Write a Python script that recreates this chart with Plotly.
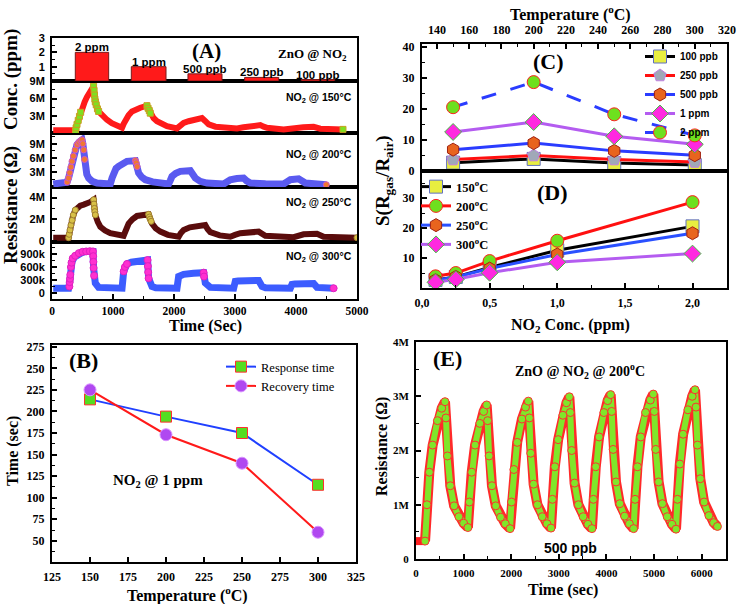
import plotly.graph_objects as go

W, H = 737, 604
def X(p): return p / W
def Y(p): return 1 - p / H

SERIF = "Liberation Serif"
SANS = "Liberation Sans"

# ---------------- Panel A data ----------------
conc_labels = ["2 ppm", "1 ppm", "500 ppb", "250 ppb", "100 ppb"]
conc_values = [2.0, 1.0, 0.5, 0.25, 0.1]
conc_start = [382, 1300, 2229, 3158, 4087]
conc_end = [929, 1869, 2787, 3716, 4634]

# 150 C (MOhm)
t150 = [20, 382, 410, 450, 492, 535, 574, 630, 682, 697, 710, 735, 764, 830, 901, 980, 1066, 1148, 1175, 1202,
        1255, 1311, 1380, 1448, 1557, 1585, 1611, 1665, 1721, 1800, 1885, 2049, 2100, 2158, 2240, 2322, 2459, 2510,
        2568, 2680, 2814, 3033, 3140, 3251, 3415, 3470, 3525, 3797, 3961, 4120, 4289, 4340, 4399, 4770]
r150 = [0.46, 0.46, 1.5, 2.9, 4.3, 5.4, 6.3, 7.3, 8.15, 6.6, 5.4, 4.5, 3.75, 2.9, 2.3, 1.7, 1.2, 0.9, 1.6, 2.3,
        3.1, 3.75, 4.15, 4.4, 4.75, 4.1, 3.45, 2.6, 2.05, 1.55, 1.2, 0.8, 1.3, 1.75, 2.05, 2.3, 2.6, 2.1,
        1.5, 1.1, 0.9, 0.8, 1.0, 1.2, 1.37, 1.1, 0.9, 0.63, 0.9, 1.0, 1.08, 0.9, 0.75, 0.63]
m150_t = [385, 395, 410, 430, 450, 470, 682, 690, 697, 703, 710, 725, 745, 764, 1557, 1575, 1595, 1611, 4770]
m150_r = [0.46, 0.9, 1.5, 2.2, 2.9, 3.6, 8.15, 7.4, 6.6, 5.9, 5.4, 4.9, 4.2, 3.75, 4.75, 4.3, 3.9, 3.45, 0.63]

# 200 C (MOhm)
t200 = [20, 218, 245, 272, 300, 328, 370, 410, 450, 492, 505, 519, 533, 547, 570, 601, 660, 738, 850, 956,
        985, 1010, 1050, 1092, 1160, 1229, 1366, 1390, 1420, 1470, 1530, 1650, 1776, 1912, 1940, 1967, 2030, 2103,
        2267, 2300, 2349, 2430, 2541, 2814, 2870, 2923, 3030, 3141, 3190, 3251, 3500, 3797, 3850, 3907, 4043, 4100,
        4153, 4497]
r200 = [0.55, 0.55, 0.9, 1.8, 3.5, 5.3, 7.3, 8.8, 9.4, 9.8, 9.0, 7.7, 5.7, 3.9, 2.6, 1.8, 1.1, 0.75, 0.6, 0.55,
        1.8, 3.2, 3.8, 4.25, 4.9, 5.3, 5.45, 4.3, 2.85, 2.0, 1.45, 1.0, 0.75, 0.55, 1.3, 2.15, 2.8, 3.2,
        3.35, 2.6, 1.8, 1.1, 0.75, 0.55, 1.0, 1.45, 1.7, 1.8, 1.2, 0.75, 0.6, 0.55, 1.0, 1.45, 1.65, 1.2,
        0.75, 0.4]
m200_t = [250, 272, 290, 310, 328, 350, 380, 410, 440, 470, 492, 505, 519, 533, 1366, 1380, 1395, 4497]
m200_r = [0.95, 1.8, 2.9, 4.1, 5.3, 6.4, 7.7, 8.8, 9.3, 9.6, 9.8, 9.0, 7.7, 5.7, 5.45, 5.0, 4.2, 0.4]

# 250 C (MOhm)
t250 = [20, 272, 290, 311, 345, 382, 420, 464, 520, 574, 630, 682, 695, 710, 750, 792, 870, 956, 1174, 1210,
        1256, 1320, 1393, 1584, 1610, 1639, 1700, 1776, 1900, 2077, 2110, 2158, 2260, 2377, 2513, 2550, 2595, 2750,
        2923, 3000, 3087, 3388, 3440, 3497, 3961, 4040, 4125, 4344, 4400, 4453, 5000]
r250 = [0.29, 0.29, 0.8, 1.45, 2.3, 2.85, 3.1, 3.25, 3.35, 3.45, 3.6, 3.8, 3.0, 2.4, 1.75, 1.3, 0.95, 0.7, 0.47, 1.0,
        1.6, 2.0, 2.3, 2.45, 2.0, 1.6, 1.15, 0.85, 0.55, 0.38, 0.7, 1.0, 1.25, 1.4, 1.46, 1.1, 0.8, 0.5,
        0.38, 0.55, 0.7, 0.85, 0.62, 0.47, 0.33, 0.5, 0.6, 0.66, 0.5, 0.38, 0.29]
m250_t = [272, 282, 295, 311, 330, 350, 382, 682, 688, 695, 702, 710, 1584, 1597, 1610, 1625, 5000]
m250_r = [0.29, 0.6, 1.0, 1.45, 1.9, 2.4, 2.85, 3.8, 3.4, 3.0, 2.7, 2.4, 2.45, 2.2, 2.0, 1.8, 0.29]

# 300 C (kOhm)
t300 = [20, 272, 290, 300, 328, 370, 410, 480, 546, 620, 672, 682, 696, 710, 764, 1148, 1175, 1200, 1229, 1300,
        1393, 1480, 1567, 1584, 1610, 1639, 1700, 2049, 2076, 2110, 2158, 2320, 2486, 2513, 2595, 2978, 3005, 3050,
        3200, 3388, 3443, 3500, 3907, 3934, 3980, 4150, 4289, 4344, 4617]
r300 = [110, 110, 250, 420, 730, 830, 880, 925, 960, 965, 960, 580, 350, 230, 130, 110, 500, 610, 670, 710,
        740, 750, 760, 340, 200, 150, 120, 110, 380, 410, 430, 455, 470, 230, 130, 110, 270, 280,
        285, 290, 150, 120, 110, 200, 210, 215, 220, 130, 110]
m300_t = [285, 290, 295, 300, 310, 320, 340, 380, 440, 500, 560, 620, 672, 676, 679, 682, 690, 1175, 1195, 1229,
          1567, 1572, 1577, 1584, 2486, 2492, 4617]
m300_r = [150, 250, 330, 420, 600, 700, 800, 860, 920, 950, 960, 965, 960, 850, 720, 580, 400, 500, 600, 670,
          760, 620, 480, 340, 470, 380, 110]

# ---------------- Panel B data ----------------
b_temp = [150, 200, 250, 300]
b_response = [214, 194, 175, 115]
b_recovery = [225, 173, 140, 60]

# ---------------- Panel C / D data ----------------
c_temp = [150, 200, 250, 300]
c_series = ["100 ppb", "250 ppb", "500 ppb", "1 ppm", "2 ppm"]
s_100ppb = [2.7, 3.9, 2.6, 1.9]
s_250ppb = [3.7, 5.0, 3.7, 2.9]
s_500ppb = [6.9, 9.0, 6.5, 5.1]
s_1ppm = [12.6, 15.8, 11.2, 8.6]
s_2ppm = [20.6, 28.7, 18.3, 11.5]

d_conc = [0.1, 0.25, 0.5, 1.0, 2.0]
d_series = ["150<sup>o</sup>C", "200<sup>o</sup>C", "250<sup>o</sup>C", "300<sup>o</sup>C"]
s_150C = [2.7, 3.7, 6.9, 12.6, 20.6]
s_200C = [3.9, 5.0, 9.0, 15.8, 28.7]
s_250C = [2.6, 3.7, 6.5, 11.2, 18.3]
s_300C = [1.9, 2.9, 5.1, 8.6, 11.5]

# ---------------- Panel E data (MOhm) ----------------
E_base_t = [0, 40, 80, 120, 160, 190]
E_base_r = [0.33, 0.33, 0.33, 0.33, 0.33, 0.33]
E_time = [190, 230, 280, 350, 450, 540, 609, 630, 660, 720, 800, 900, 1000,
          1090, 1120, 1170, 1240, 1340, 1420, 1484, 1505, 1535, 1595, 1675, 1775, 1875,
          1975, 2005, 2055, 2125, 2225, 2300, 2359, 2380, 2410, 2470, 2550, 2650, 2750,
          2835, 2865, 2915, 2985, 3085, 3160, 3220, 3240, 3270, 3330, 3410, 3510, 3610,
          3695, 3725, 3775, 3845, 3945, 4025, 4088, 4110, 4140, 4200, 4280, 4380, 4480,
          4570, 4600, 4650, 4720, 4820, 4920, 4984, 5005, 5035, 5095, 5175, 5275, 5375,
          5460, 5490, 5540, 5610, 5710, 5800, 5859, 5880, 5910, 5970, 6050, 6150, 6250, 6330]
E_res = [0.33, 1.0, 1.6, 2.1, 2.55, 2.78, 2.90, 2.6, 1.9, 1.35, 0.98, 0.78, 0.66,
         0.58, 1.05, 1.6, 2.1, 2.5, 2.72, 2.84, 2.55, 1.9, 1.35, 0.98, 0.77, 0.65,
         0.56, 1.05, 1.65, 2.15, 2.58, 2.8, 2.91, 2.6, 1.95, 1.38, 1.0, 0.78, 0.65,
         0.57, 1.1, 1.7, 2.2, 2.65, 2.88, 2.99, 2.7, 2.0, 1.4, 1.0, 0.78, 0.64,
         0.56, 1.1, 1.7, 2.25, 2.7, 2.92, 3.03, 2.72, 2.02, 1.42, 1.02, 0.79, 0.65,
         0.56, 1.1, 1.7, 2.25, 2.7, 2.93, 3.04, 2.72, 2.02, 1.42, 1.02, 0.78, 0.64,
         0.55, 1.1, 1.75, 2.3, 2.75, 3.0, 3.12, 2.8, 2.1, 1.48, 1.05, 0.8, 0.67, 0.6]

# ---------------- figure ----------------
fig = go.Figure()
NOHOVER = dict(hoverinfo="skip", showlegend=False)

def band(x, y, color, width, xa, ya):
    fig.add_trace(go.Scatter(x=x, y=y, mode="lines", line=dict(color=color, width=width),
                             xaxis=xa, yaxis=ya, **NOHOVER))

def marks(x, y, color, edge, symbol, size, xa, ya):
    fig.add_trace(go.Scatter(x=x, y=y, mode="markers",
                             marker=dict(color=color, symbol=symbol, size=size, line=dict(color=edge, width=1)),
                             xaxis=xa, yaxis=ya, **NOHOVER))

# conc bars
centers = [(s + e) / 2 for s, e in zip(conc_start, conc_end)]
widths = [e - s for s, e in zip(conc_start, conc_end)]
fig.add_trace(go.Bar(x=centers, y=conc_values, width=widths,
                     marker=dict(color="#ff1a1a", line=dict(color="#7a1a1a", width=1)),
                     xaxis="x5", yaxis="y5", **NOHOVER))

band(t150, r150, "#ff1a1a", 6, "x4", "y4")
marks(m150_t, m150_r, "#7ee020", "#c8a020", "square", 6, "x4", "y4")
band(t200, r200, "#5a5af0", 7, "x3", "y3")
marks(m200_t, m200_r, "#f07830", "#d05ac0", "circle", 6, "x3", "y3")
band(t250, r250, "#5a0c0c", 6, "x2", "y2")
marks(m250_t, m250_r, "#d8c048", "#a08030", "circle", 6, "x2", "y2")
band(t300, r300, "#3c5cff", 7, "x", "y")
marks(m300_t, m300_r, "#ff30d0", "#e020c0", "circle", 7, "x", "y")

# Panel B
fig.add_trace(go.Scatter(x=b_temp, y=b_response, name="Response time", mode="lines+markers",
                         line=dict(color="#2040ff", width=2),
                         marker=dict(symbol="square", size=11, color="#55dd22", line=dict(color="#ff3030", width=1)),
                         xaxis="x6", yaxis="y6", legend="legend", hoverinfo="skip"))
fig.add_trace(go.Scatter(x=b_temp, y=b_recovery, name="Recovery time", mode="lines+markers",
                         line=dict(color="#ff1a1a", width=2),
                         marker=dict(symbol="circle", size=12, color="#b048f0", line=dict(color="#d890ff", width=1)),
                         xaxis="x6", yaxis="y6", legend="legend", hoverinfo="skip"))

# Panel C
c_vals = [s_100ppb, s_250ppb, s_500ppb, s_1ppm, s_2ppm]
c_line = ["#000000", "#ff1010", "#2a3cff", "#b45cf0", "#2a3cff"]
c_dash = ["solid", "solid", "solid", "solid", "longdash"]
c_sym = ["square", "pentagon", "hexagon", "diamond", "circle"]
c_fill = ["#e8ee40", "#a0a8b8", "#e8641e", "#ff28e0", "#6ee01e"]
c_edge = ["#6070c0", "#c080e0", "#a02010", "#40c040", "#ff2020"]
for nm, v, lc, ds, sy, fc, ec in zip(c_series, c_vals, c_line, c_dash, c_sym, c_fill, c_edge):
    fig.add_trace(go.Scatter(x=c_temp, y=v, name=nm, mode="lines+markers",
                             line=dict(color=lc, width=3, dash=ds),
                             marker=dict(symbol=sy, size=13, color=fc, line=dict(color=ec, width=1)),
                             xaxis="x7", yaxis="y7", legend="legend2", hoverinfo="skip"))

# Panel D
d_vals = [s_150C, s_200C, s_250C, s_300C]
d_line = ["#000000", "#ff1010", "#2a50ff", "#b45cf0"]
d_sym = ["square", "circle", "hexagon", "diamond"]
d_fill = ["#e8ee40", "#6ee01e", "#e8641e", "#ff28e0"]
d_edge = ["#6070c0", "#ff2020", "#a02010", "#40c040"]
for nm, v, lc, sy, fc, ec in zip(d_series, d_vals, d_line, d_sym, d_fill, d_edge):
    fig.add_trace(go.Scatter(x=d_conc, y=v, name=nm, mode="lines+markers",
                             line=dict(color=lc, width=3),
                             marker=dict(symbol=sy, size=13, color=fc, line=dict(color=ec, width=1)),
                             xaxis="x8", yaxis="y8", legend="legend3", hoverinfo="skip"))

# Panel E
band(E_base_t, E_base_r, "#ff2020", 8, "x9", "y9")
band(E_time, E_res, "#ff2a2a", 10, "x9", "y9")
band(E_time, E_res, "#80e62a", 6, "x9", "y9")
marks(E_time, E_res, "#80e62a", "#ff3030", "circle", 8, "x9", "y9")

# ---------------- axes ----------------
def tf(family, size):
    return dict(family=family, size=size, color="black", weight="bold")

def axis(dom, rng, anchor, **kw):
    d = dict(domain=dom, range=rng, anchor=anchor, showline=True, linecolor="black", linewidth=2,
             mirror=True, showgrid=False, zeroline=False, ticks="inside", ticklen=5, tickwidth=1.5,
             tickcolor="black", automargin=False, fixedrange=True, ticklabelstandoff=3)
    d.update(kw)
    return d

def minor(**kw):
    d = dict(ticks="inside", ticklen=3, tickwidth=1, tickcolor="black")
    d.update(kw)
    return d

AX = [X(52), X(357)]
lay = {}
lay["xaxis"] = axis(AX, [0, 5000], "y", dtick=1000, tick0=0, tickfont=tf(SERIF, 11.5),
                    minor=minor(dtick=500, tick0=0), ticklabelstandoff=0)
for i, a in [(2, "y2"), (3, "y3"), (4, "y4"), (5, "y5")]:
    lay["xaxis%d" % i] = axis(AX, [0, 5000], a, showticklabels=False, ticks="")

lay["yaxis"] = axis([Y(299), Y(242)], [-138, 1177], "x", tickmode="array", tickvals=[0, 300, 600, 900],
                    ticktext=["0", "300k", "600k", "900k"], tickfont=tf(SANS, 11),
                    minor=minor(tickmode="array", tickvals=[150, 450, 750, 1050]))
lay["yaxis2"] = axis([Y(242), Y(187)], [-0.11, 4.98], "x2", tickmode="array", tickvals=[0, 2, 4],
                     ticktext=["0", "2M", "4M"], tickfont=tf(SANS, 11),
                     minor=minor(tickmode="array", tickvals=[1, 3]))
lay["yaxis3"] = axis([Y(187), Y(133)], [-0.08, 11.24], "x3", tickmode="array", tickvals=[3, 6, 9],
                     ticktext=["3M", "6M", "9M"], tickfont=tf(SANS, 11),
                     minor=minor(tickmode="array", tickvals=[1.5, 4.5, 7.5, 10.5]))
lay["yaxis4"] = axis([Y(133), Y(81)], [0, 9.05], "x4", tickmode="array", tickvals=[3, 6, 9],
                     ticktext=["3M", "6M", "9M"], tickfont=tf(SANS, 11),
                     minor=minor(tickmode="array", tickvals=[1.5, 4.5, 7.5]))
lay["yaxis5"] = axis([Y(81), Y(38)], [0, 3], "x5", tickmode="array", tickvals=[1, 2, 3],
                     ticktext=["1", "2", "3"], tickfont=tf(SANS, 11),
                     minor=minor(tickmode="array", tickvals=[0.5, 1.5, 2.5]))

# B
lay["xaxis6"] = axis([X(52), X(356)], [125, 325], "y6", dtick=25, tick0=0, tickfont=tf(SERIF, 12))
lay["yaxis6"] = axis([Y(562), Y(345)], [25.5, 277], "x6", dtick=25, tick0=0, tickfont=tf(SERIF, 12),
                     minor=minor(dtick=12.5, tick0=0))
# C
lay["xaxis7"] = axis([X(422), X(727)], [130.7, 320], "y7", side="top", dtick=20, tick0=0,
                     tickfont=tf(SERIF, 12), minor=minor(dtick=10, tick0=0))
lay["yaxis7"] = axis([Y(171), Y(44)], [0, 41], "x7", dtick=10, tick0=0, tickfont=tf(SERIF, 12),
                     minor=minor(dtick=5, tick0=0))
# D
lay["xaxis8"] = axis([X(422), X(727)], [0, 2.255], "y8", tickmode="array", tickvals=[0, 0.5, 1.0, 1.5, 2.0],
                     ticktext=["0,0", "0,5", "1,0", "1,5", "2,0"], tickfont=tf(SERIF, 12),
                     minor=minor(tickmode="array", tickvals=[0.25, 0.75, 1.25, 1.75, 2.25]))
lay["yaxis8"] = axis([Y(288), Y(171)], [0, 39.1], "x8", tickmode="array", tickvals=[10, 20, 30],
                     tickfont=tf(SERIF, 12), minor=minor(tickmode="array", tickvals=[5, 15, 25, 35]))
# E
lay["xaxis9"] = axis([X(416), X(726)], [0, 6510], "y9", dtick=1000, tick0=0, tickfont=tf(SERIF, 11),
                     minor=minor(dtick=500, tick0=0))
lay["yaxis9"] = axis([Y(559), Y(342)], [0, 4], "x9", tickmode="array", tickvals=[0, 1, 2, 3, 4],
                     ticktext=["0", "1M", "2M", "3M", "4M"], tickfont=tf(SERIF, 11),
                     minor=minor(tickmode="array", tickvals=[0.5, 1.5, 2.5, 3.5]))

# ---------------- annotations ----------------
def ann(text, px, py, size, family=SERIF, bold=True, angle=0, xanchor="center", yanchor="middle"):
    return dict(text=text, x=X(px), y=Y(py), xref="paper", yref="paper", showarrow=False,
                font=dict(family=family, size=size, color="black", weight="bold" if bold else "normal"),
                textangle=angle, xanchor=xanchor, yanchor=yanchor)

anns = [
    ann("Conc. (ppm)", 11, 80, 19, angle=-90),
    ann("Resistance (\u03a9)", 11, 205, 19, angle=-90),
    ann("Time (Sec)", 205, 326, 16),
    ann("(A)", 206, 51, 21),
    ann("ZnO @ NO<sub>2</sub>", 349, 54, 13, xanchor="right"),
    ann("NO<sub>2</sub> @ 150\u00b0C", 354, 98, 10.5, family=SANS, xanchor="right"),
    ann("NO<sub>2</sub> @ 200\u00b0C", 354, 155, 10.5, family=SANS, xanchor="right"),
    ann("NO<sub>2</sub> @ 250\u00b0C", 354, 203, 10.5, family=SANS, xanchor="right"),
    ann("NO<sub>2</sub> @ 300\u00b0C", 354, 257, 10.5, family=SANS, xanchor="right"),
    ann("Time (sec)", 13, 451, 16, angle=-90),
    ann("Temperature (<sup>o</sup>C)", 187, 594, 16),
    ann("(B)", 83, 360, 22),
    ann("NO<sub>2</sub> @ 1 ppm", 158, 481, 15),
    ann("Temperature (<sup>o</sup>C)", 570, 13, 16),
    ann("(C)", 548, 62, 22),
    ann("(D)", 552, 192, 22),
    ann("S(R<sub>gas</sub>/R<sub>air</sub>)", 384, 180, 19, angle=-90),
    ann("NO<sub>2</sub> Conc. (ppm)", 570, 325, 16),
    ann("(E)", 447, 358, 22),
    ann("ZnO @ NO<sub>2</sub> @ 200<sup>o</sup>C", 580, 371, 14),
    ann("500 ppb", 570, 548, 14, family=SANS),
    ann("Time (sec)", 563, 590, 16),
    ann("Resistance (\u03a9)", 382, 447, 16, angle=-90),
]
for lab, c, v in zip(conc_labels, centers, conc_values):
    anns.append(dict(text=lab, x=c, y=v, xref="x5", yref="y5", showarrow=False, yanchor="bottom",
                     yshift=-3, font=dict(family=SANS, size=11.5, color="black", weight="bold")))

fig.update_layout(
    width=W, height=H, margin=dict(l=0, r=0, t=0, b=0),
    paper_bgcolor="white", plot_bgcolor="white",
    font=dict(family=SERIF, color="black"),
    annotations=anns,
    legend=dict(x=X(221), y=Y(352), xanchor="left", yanchor="top", bgcolor="rgba(0,0,0,0)",
                font=dict(family=SERIF, size=12.5, color="black"), tracegroupgap=0, itemclick=False),
    legend2=dict(x=X(640), y=Y(42), xanchor="left", yanchor="top", bgcolor="rgba(0,0,0,0)",
                 font=dict(family=SANS, size=10, color="black", weight="bold"), tracegroupgap=0, itemclick=False),
    legend3=dict(x=X(416), y=Y(172), xanchor="left", yanchor="top", bgcolor="rgba(0,0,0,0)",
                 font=dict(family=SERIF, size=12.5, color="black", weight="bold"), tracegroupgap=0, itemclick=False),
    **lay,
)

fig.write_html("out.html")
